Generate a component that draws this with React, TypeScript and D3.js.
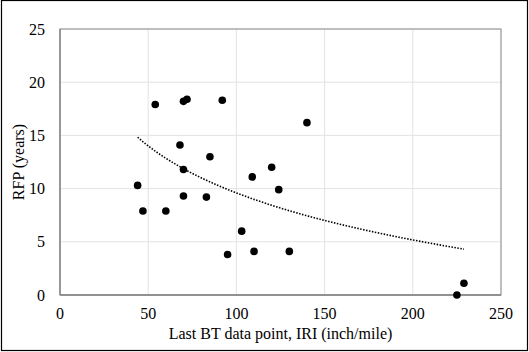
import React from 'react';
import * as d3 from 'd3';

// last BT data point (IRI, inch/mile) and RFP (years)
const iri = [44, 47, 54, 60, 68, 70, 72, 70, 70, 83, 85, 92, 95, 103, 109, 110, 120, 124, 130, 140, 225, 229];
const rfp = [10.3, 7.9, 17.9, 7.9, 14.1, 18.2, 18.4, 11.8, 9.3, 9.2, 13.0, 18.3, 3.8, 6.0, 11.1, 4.1, 12.0, 9.9, 4.1, 16.2, 0, 1.1];

const xTicks = [0, 50, 100, 150, 200, 250];
const yTicks = [0, 5, 10, 15, 20, 25];

const xTitle = 'Last BT data point, IRI (inch/mile)';
const yTitle = 'RFP (years)';

const width = 529;
const height = 352;
const margin = { top: 29, right: 28, bottom: 57, left: 60 };

// excel style log trendline: y = a + b*ln(x), least squares on the points
function logFit(xs: number[], ys: number[]) {
  const lx = xs.map(x => Math.log(x));
  const mx = d3.mean(lx) as number;
  const my = d3.mean(ys) as number;
  let sxy = 0, sxx = 0;
  lx.forEach((v, i) => {
    sxy += (v - mx) * (ys[i] - my);
    sxx += (v - mx) * (v - mx);
  });
  const b = sxy / sxx;
  return { a: my - b * mx, b };
}

export default function App() {
  const x = d3.scaleLinear().domain([0, 250]).range([margin.left, width - margin.right]);
  const y = d3.scaleLinear().domain([0, 25]).range([height - margin.bottom, margin.top]);

  const fit = logFit(iri, rfp);
  const [xmin, xmax] = d3.extent(iri) as [number, number];
  const trendX = d3.range(0, 61).map(i => xmin + (xmax - xmin) * i / 60);
  const trend = d3.line<number>()
    .x(d => x(d))
    .y(d => y(fit.a + fit.b * Math.log(d)))(trendX);

  const font = '"Liberation Serif", "Times New Roman", serif';

  return (
    <svg width={width} height={height} style={{ position: 'absolute', left: 0, top: 0, background: '#fff' }}
      fontFamily={font}>
      <rect x={1.5} y={0.5} width={526} height={350} fill="#fff" stroke="#000" strokeWidth={1.2} />

      {/* gridlines */}
      {xTicks.slice(1).map(t => (
        <line key={'gx' + t} x1={x(t)} x2={x(t)} y1={y(0)} y2={y(25)} stroke="#e3e3e3" strokeWidth={1} />
      ))}
      {yTicks.slice(1).map(t => (
        <line key={'gy' + t} x1={x(0)} x2={x(250)} y1={y(t)} y2={y(t)} stroke="#e3e3e3" strokeWidth={1} />
      ))}

      {/* plot frame */}
      <rect x={x(0)} y={y(25)} width={x(250) - x(0)} height={y(0) - y(25)} fill="none" stroke="#8c8c8c" strokeWidth={1} />
      <line x1={x(0)} x2={x(0)} y1={y(0)} y2={y(25)} stroke="#7f7f7f" strokeWidth={1.3} />
      <line x1={x(0)} x2={x(250)} y1={y(0)} y2={y(0)} stroke="#7f7f7f" strokeWidth={1.3} />

      {/* tick labels */}
      {yTicks.map(t => (
        <text key={'ty' + t} x={x(0) - 15} y={y(t)} dy="0.35em" textAnchor="end" fontSize={16}>{t}</text>
      ))}
      {xTicks.map(t => (
        <text key={'tx' + t} x={x(t)} y={y(0) + 24} textAnchor="middle" fontSize={16}>{t}</text>
      ))}

      <text x={(x(0) + x(250)) / 2} y={339} textAnchor="middle" fontSize={16}>{xTitle}</text>
      <text transform={`translate(24,${(y(0) + y(25)) / 2}) rotate(-90)`} textAnchor="middle" fontSize={16}>{yTitle}</text>

      {/* trendline */}
      <path d={trend || ''} fill="none" stroke="#000" strokeWidth={1.6} strokeDasharray="1.5,1.5" />

      {/* points */}
      {iri.map((v, i) => (
        <circle key={'p' + i} cx={x(v)} cy={y(rfp[i])} r={3.8} fill="#000" />
      ))}
    </svg>
  );
}
